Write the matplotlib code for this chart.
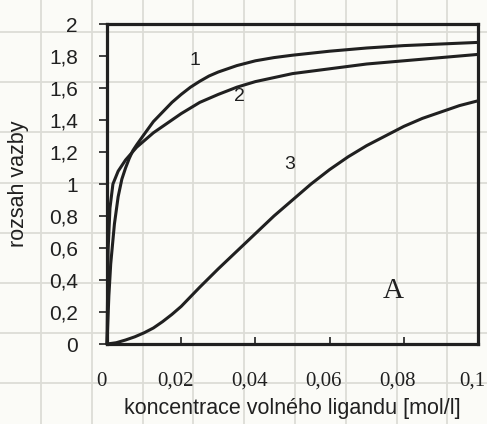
import numpy as np
from matplotlib import pyplot as plt
from matplotlib import transforms as mtransforms

# koncentrace volneho ligandu [mol/l] a rozsah vazby pro krivky 1, 2, 3
c1 = [0, 0.0005, 0.001, 0.002, 0.003, 0.004, 0.005, 0.006, 0.007, 0.008, 0.01,
      0.0125, 0.015, 0.0175, 0.02, 0.0225, 0.025, 0.0275, 0.03, 0.035, 0.04,
      0.045, 0.05, 0.06, 0.07, 0.08, 0.09, 0.1]
v1 = [0, 0.3, 0.5, 0.75, 0.92, 1.03, 1.1, 1.16, 1.21, 1.245, 1.31,
      1.39, 1.45, 1.51, 1.56, 1.605, 1.642, 1.675, 1.70, 1.74, 1.77,
      1.79, 1.805, 1.83, 1.85, 1.865, 1.875, 1.885]

c2 = [0, 0.0003, 0.0008, 0.0016, 0.003, 0.005, 0.008, 0.01, 0.0125, 0.015,
      0.0175, 0.02, 0.025, 0.03, 0.035, 0.04, 0.05, 0.06, 0.07, 0.08, 0.09, 0.1]
v2 = [0, 0.59, 0.85, 1.0, 1.08, 1.15, 1.23, 1.27, 1.32, 1.36,
      1.4, 1.44, 1.51, 1.56, 1.605, 1.64, 1.69, 1.72, 1.75, 1.77, 1.79, 1.81]

c3 = [0, 0.0025, 0.005, 0.0075, 0.01, 0.0125, 0.015, 0.0175, 0.02, 0.025,
      0.03, 0.035, 0.04, 0.045, 0.05, 0.055, 0.06, 0.065, 0.07, 0.075,
      0.08, 0.085, 0.09, 0.095, 0.1]
v3 = [0, 0.008, 0.025, 0.045, 0.07, 0.1, 0.14, 0.185, 0.235, 0.355,
      0.47, 0.58, 0.69, 0.8, 0.9, 1.0, 1.09, 1.17, 1.24, 1.3,
      1.36, 1.41, 1.45, 1.49, 1.52]

x_ticks = [0, 0.02, 0.04, 0.06, 0.08, 0.1]
x_labels = ['0', '0,02', '0,04', '0,06', '0,08', '0,1']
y_ticks = [0, 0.2, 0.4, 0.6, 0.8, 1, 1.2, 1.4, 1.6, 1.8, 2]
y_labels = ['0', '0,2', '0,4', '0,6', '0,8', '1', '1,2', '1,4', '1,6', '1,8', '2']

ink = '#202020'
sans = 'Liberation Sans'
serif = 'Liberation Serif'

fig = plt.figure(figsize=(4.87, 4.24), dpi=100)
fig.patch.set_facecolor('#fbfbf7')

# squared paper in the background
paper = fig.add_axes([0, 0, 1, 1], zorder=0)
paper.set_xlim(0, 487)
paper.set_ylim(424, 0)
paper.axis('off')
for gx in np.arange(41, 487, 50.8):
    paper.axvline(gx, color='#dcdcd6', lw=1.3)
for gy in np.arange(32, 424, 50.2):
    paper.axhline(gy, color='#dcdcd6', lw=1.3)

ax = fig.add_axes([107/487, 1 - 344/424, 371/487, 320/424], zorder=1)
ax.patch.set_alpha(0)

for c, v in [(c1, v1), (c2, v2), (c3, v3)]:
    ax.plot(c, v, color=ink, lw=2.2, solid_capstyle='round',
            solid_joinstyle='round', clip_on=False)

ax.set_xlim(0, 0.1)
ax.set_ylim(0, 2)

for s in ax.spines.values():
    s.set_linewidth(2.3)
    s.set_color(ink)

ax.set_xticks(x_ticks)
ax.set_xticklabels(x_labels, family=serif, fontsize=15)
ax.set_yticks(y_ticks)
ax.set_yticklabels(y_labels, family=sans, fontsize=15)
ax.tick_params(axis='x', direction='in', length=5, width=1.2, color=ink,
               pad=20, labelcolor=ink)
ax.tick_params(axis='y', direction='out', length=6, width=1.2, color=ink,
               pad=15, labelcolor=ink)
shift = mtransforms.ScaledTranslation(-6/100, 0, fig.dpi_scale_trans)
for lab in ax.get_xticklabels():
    lab.set_transform(lab.get_transform() + shift)

ax.set_xlabel('koncentrace volného ligandu [mol/l]', family=sans, fontsize=15.5,
              color=ink, labelpad=5)
ax.set_ylabel('rozsah vazby', family=sans, fontsize=15.5, color=ink, labelpad=14)

ax.text(0.0238, 1.77, '1', family=sans, fontsize=14, color=ink, ha='center', va='center')
ax.text(0.0358, 1.545, '2', family=sans, fontsize=14, color=ink, ha='center', va='center')
ax.text(0.0493, 1.12, '3', family=sans, fontsize=14, color=ink, ha='center', va='center')
ax.text(0.0771, 0.33, 'A', family=serif, fontsize=21, color=ink, ha='center', va='center')

fig.savefig('out.png', dpi=100, facecolor=fig.get_facecolor())
